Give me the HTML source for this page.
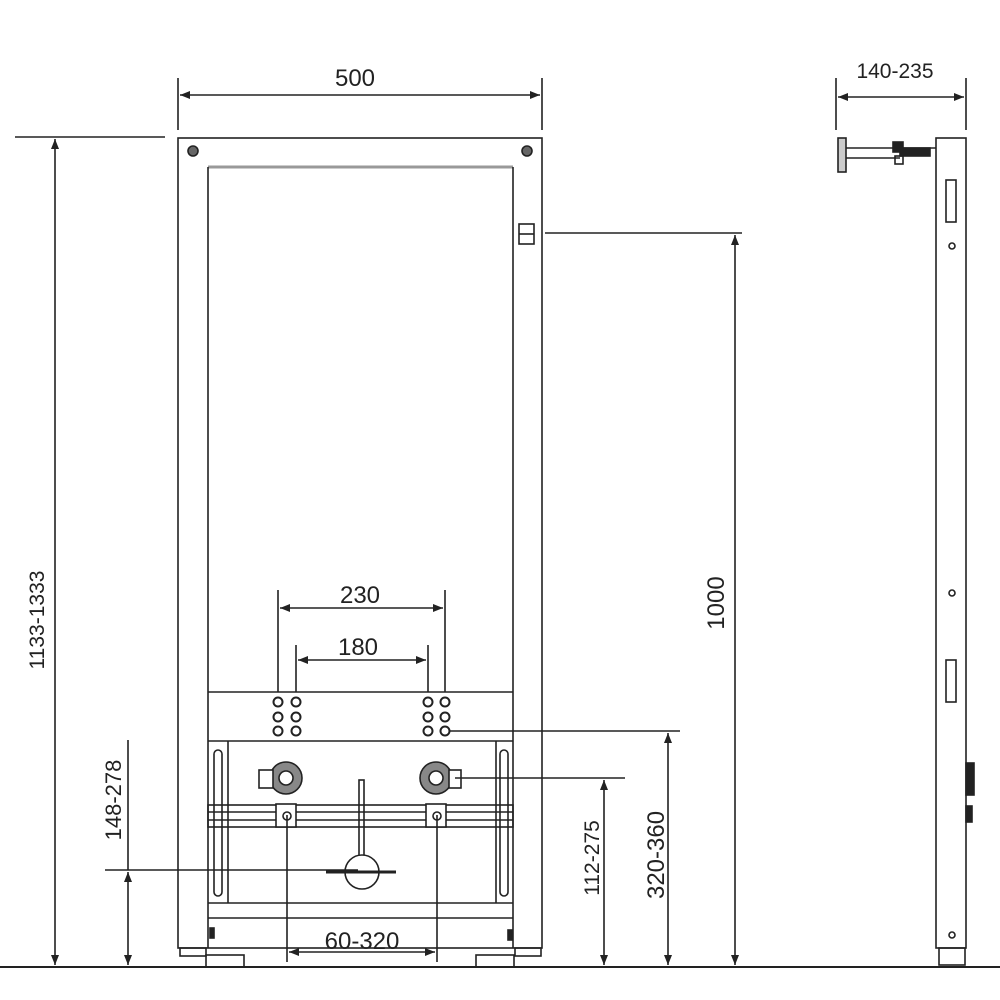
<!DOCTYPE html>
<html><head><meta charset="utf-8"><style>html,body{margin:0;padding:0;background:#fff}svg{display:block}text{font-family:"Liberation Sans",sans-serif;fill:#222}</style></head>
<body>
<svg width="1000" height="1000" viewBox="0 0 1000 1000" xmlns="http://www.w3.org/2000/svg">
<defs>
<marker id="a" viewBox="0 0 10 10" refX="10" refY="5" markerWidth="10" markerHeight="10" markerUnits="userSpaceOnUse" orient="auto-start-reverse"><path d="M0,1 L10,5 L0,9 z" fill="#222"/></marker>
</defs>
<g stroke="#222" stroke-width="1.6" fill="none">
<line x1="0" y1="967" x2="1000" y2="967" stroke-width="2"/>
<rect x="178" y="138" width="364" height="810" fill="#fff"/>
<rect x="208" y="168" width="305" height="524" fill="#fff" stroke="none"/>
<line x1="208" y1="167" x2="513" y2="167" stroke="#999" stroke-width="3"/>
<line x1="208" y1="167" x2="208" y2="948"/>
<line x1="513" y1="167" x2="513" y2="948"/>
<line x1="208" y1="692" x2="513" y2="692"/>
<line x1="208" y1="741" x2="513" y2="741"/>
<line x1="208" y1="903" x2="513" y2="903"/>
<line x1="208" y1="918" x2="513" y2="918"/>
<line x1="228" y1="741" x2="228" y2="903"/>
<line x1="496" y1="741" x2="496" y2="903"/>
<rect x="214" y="750" width="8" height="146" rx="4"/>
<rect x="500" y="750" width="8" height="146" rx="4"/>
<rect x="208" y="805" width="305" height="22"/>
<line x1="208" y1="812" x2="513" y2="812"/>
<line x1="208" y1="820" x2="513" y2="820"/>
<circle cx="286" cy="778" r="16" fill="#888"/>
<circle cx="286" cy="778" r="7" fill="#fff"/>
<rect x="259" y="770" width="14" height="18" fill="#fff"/>
<circle cx="436" cy="778" r="16" fill="#888"/>
<circle cx="436" cy="778" r="7" fill="#fff"/>
<rect x="449" y="770" width="12" height="18" fill="#fff"/>
<rect x="276" y="804" width="20" height="23" fill="#fff"/>
<rect x="426" y="804" width="20" height="23" fill="#fff"/>
<circle cx="287" cy="816" r="4"/>
<circle cx="437" cy="816" r="4"/>
<rect x="359" y="780" width="5" height="92"/>
<circle cx="362" cy="872" r="17" fill="#fff"/>
<line x1="326" y1="872" x2="396" y2="872" stroke-width="3"/>
<g stroke-width="2">
<circle cx="278" cy="702" r="4.5"/><circle cx="296" cy="702" r="4.5"/>
<circle cx="278" cy="717" r="4.5"/><circle cx="296" cy="717" r="4.5"/>
<circle cx="278" cy="731" r="4.5"/><circle cx="296" cy="731" r="4.5"/>
<circle cx="428" cy="702" r="4.5"/><circle cx="445" cy="702" r="4.5"/>
<circle cx="428" cy="717" r="4.5"/><circle cx="445" cy="717" r="4.5"/>
<circle cx="428" cy="731" r="4.5"/><circle cx="445" cy="731" r="4.5"/>
</g>
<circle cx="193" cy="151" r="5" fill="#666"/>
<circle cx="527" cy="151" r="5" fill="#666"/>
<rect x="519" y="224" width="15" height="20"/>
<line x1="519" y1="234" x2="534" y2="234"/>
<rect x="180" y="948" width="26" height="8"/>
<rect x="515" y="948" width="26" height="8"/>
<rect x="206" y="955" width="38" height="12"/>
<rect x="476" y="955" width="38" height="12"/>
<rect x="210" y="928" width="4" height="10" fill="#222"/>
<rect x="508" y="930" width="4" height="10" fill="#222"/>

<line x1="178" y1="78" x2="178" y2="130"/><line x1="542" y1="78" x2="542" y2="130"/>
<line x1="180" y1="95" x2="540" y2="95" marker-start="url(#a)" marker-end="url(#a)"/>
<line x1="15" y1="137" x2="165" y2="137"/>
<line x1="55" y1="139" x2="55" y2="965" marker-start="url(#a)" marker-end="url(#a)"/>
<line x1="545" y1="233" x2="742" y2="233"/>
<line x1="735" y1="235" x2="735" y2="965" marker-start="url(#a)" marker-end="url(#a)"/>
<line x1="278" y1="590" x2="278" y2="692"/><line x1="445" y1="590" x2="445" y2="692"/>
<line x1="280" y1="608" x2="443" y2="608" marker-start="url(#a)" marker-end="url(#a)"/>
<line x1="296" y1="645" x2="296" y2="692"/><line x1="428" y1="645" x2="428" y2="692"/>
<line x1="298" y1="660" x2="426" y2="660" marker-start="url(#a)" marker-end="url(#a)"/>
<line x1="450" y1="731" x2="680" y2="731"/>
<line x1="668" y1="733" x2="668" y2="965" marker-start="url(#a)" marker-end="url(#a)"/>
<line x1="455" y1="778" x2="625" y2="778"/>
<line x1="604" y1="780" x2="604" y2="965" marker-start="url(#a)" marker-end="url(#a)"/>
<line x1="105" y1="870" x2="358" y2="870"/>
<line x1="128" y1="740" x2="128" y2="870"/>
<line x1="128" y1="872" x2="128" y2="965" marker-start="url(#a)" marker-end="url(#a)"/>
<line x1="287" y1="815" x2="287" y2="962"/><line x1="437" y1="815" x2="437" y2="962"/>
<line x1="289" y1="952" x2="435" y2="952" marker-start="url(#a)" marker-end="url(#a)"/>

<rect x="936" y="138" width="30" height="810" fill="#fff"/>
<rect x="946" y="180" width="10" height="42"/>
<rect x="946" y="660" width="10" height="42"/>
<circle cx="952" cy="246" r="3"/><circle cx="952" cy="593" r="3"/><circle cx="952" cy="935" r="3"/>
<rect x="966" y="763" width="8" height="32" fill="#222"/>
<rect x="966" y="806" width="6" height="16" fill="#222"/>
<rect x="939" y="948" width="26" height="17"/>
<line x1="836" y1="78" x2="836" y2="130"/><line x1="966" y1="78" x2="966" y2="130"/>
<line x1="838" y1="97" x2="964" y2="97" marker-start="url(#a)" marker-end="url(#a)"/>
<rect x="838" y="138" width="8" height="34" fill="#ccc"/>
<line x1="846" y1="148" x2="936" y2="148"/>
<line x1="846" y1="158" x2="900" y2="158"/>
<rect x="893" y="142" width="10" height="10" fill="#222"/>
<rect x="900" y="148" width="30" height="8" fill="#222"/>
<rect x="895" y="156" width="8" height="8"/>
</g>
<text x="355" y="86" font-size="24" text-anchor="middle">500</text>
<text x="895" y="78" font-size="21" text-anchor="middle">140-235</text>
<text x="360" y="603" font-size="24" text-anchor="middle">230</text>
<text x="358" y="655" font-size="24" text-anchor="middle">180</text>
<text x="362" y="949" font-size="24" text-anchor="middle">60-320</text>
<text transform="translate(44,620) rotate(-90)" font-size="21" text-anchor="middle">1133-1333</text>
<text transform="translate(121,800) rotate(-90)" font-size="22" text-anchor="middle">148-278</text>
<text transform="translate(599,858) rotate(-90)" font-size="21" text-anchor="middle">112-275</text>
<text transform="translate(664,855) rotate(-90)" font-size="24" text-anchor="middle">320-360</text>
<text transform="translate(724,603) rotate(-90)" font-size="24" text-anchor="middle">1000</text>
</svg>
</body></html>
